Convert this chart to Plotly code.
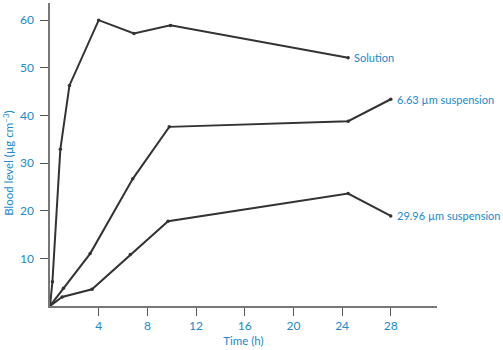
import plotly.graph_objects as go

# Time points (h) and blood levels (µg cm^-3) for each formulation
sol_t = [0, 0.2, 0.85, 1.6, 4, 6.9, 9.9, 24.5]
sol_y = [0, 5.1, 32.9, 46.3, 60, 57.2, 58.9, 52.1]

s663_t = [0, 1.1, 3.3, 6.8, 9.8, 24.5, 28]
s663_y = [0, 3.7, 11.0, 26.7, 37.6, 38.8, 43.4]

s2996_t = [0, 1.0, 3.45, 6.6, 9.7, 24.5, 28]
s2996_y = [0, 1.9, 3.5, 10.8, 17.8, 23.6, 18.9]

series_names = ["Solution", "6.63 µm suspension", "29.96 µm suspension"]

x_ticks = [4, 8, 12, 16, 20, 24, 28]
y_ticks = [10, 20, 30, 40, 50, 60]

BLUE = "#2189d0"
LINE = "#333333"
FONT = "Lato"

fig = go.Figure()
for t, y, name in [(sol_t, sol_y, series_names[0]),
                   (s663_t, s663_y, series_names[1]),
                   (s2996_t, s2996_y, series_names[2])]:
    fig.add_trace(go.Scatter(
        x=t, y=y, mode="lines+markers", name=name,
        line=dict(color=LINE, width=2),
        marker=dict(color=LINE, size=3.5),
        showlegend=False, cliponaxis=False,
    ))
    fig.add_annotation(
        x=t[-1], y=y[-1], text=name, showarrow=False,
        xanchor="left", yanchor="middle", xshift=4,
        font=dict(family=FONT, size=11, color=BLUE),
    )

# vertical axis title, placed a little below the plot's mid-height
fig.add_annotation(
    xref="paper", yref="paper", x=-0.108, y=0.47,
    text="Blood level (µg cm<sup>−3</sup>)", textangle=-90, showarrow=False,
    xanchor="center", yanchor="middle",
    font=dict(family=FONT, size=11.5, color=BLUE),
)

fig.update_layout(
    width=503, height=350,
    margin=dict(l=50, r=66, t=3, b=44),
    paper_bgcolor="white", plot_bgcolor="white",
    font=dict(family=FONT, size=12, color=BLUE),
)
fig.update_xaxes(
    range=[0, 31.8], tickvals=x_ticks, ticks="outside", ticklen=8,
    tickcolor="#555555", tickwidth=1.2, showline=True, linecolor="#777777",
    linewidth=1.5, showgrid=False, zeroline=False,
    tickfont=dict(family=FONT, size=12, color=BLUE),
    title=dict(text="Time (h)", font=dict(family=FONT, size=11.5, color=BLUE), standoff=5),
)
fig.update_yaxes(
    range=[0, 63.6], tickvals=y_ticks, ticks="outside", ticklen=8,
    tickcolor="#555555", tickwidth=1.2, showline=True, linecolor="#777777",
    linewidth=1.5, showgrid=False, zeroline=False, ticklabelstandoff=4,
    tickfont=dict(family=FONT, size=12, color=BLUE),
)

fig.write_html("out.html")
